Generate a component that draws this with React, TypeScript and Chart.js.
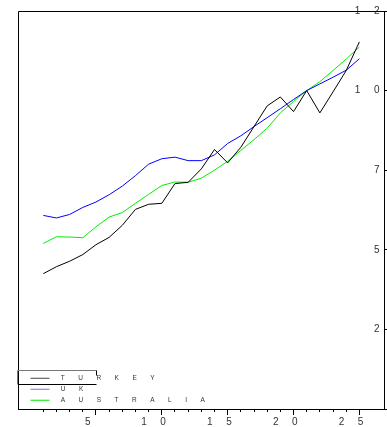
import React, { useEffect, useRef } from 'react';
import { Chart, registerables } from 'chart.js';

Chart.register(...registerables);

// ---- data ----
const years = [1, 2, 3, 4, 5, 6, 7, 8, 9, 10, 11, 12, 13, 14, 15, 16, 17, 18, 19, 20, 21, 22, 23, 24, 25];
const turkey = [42.5, 44.7, 46.4, 48.5, 51.6, 53.9, 57.7, 62.7, 64.3, 64.6, 70.8, 71.2, 75.4, 81.5, 77.3, 82.2, 88.7, 95.2, 98.0, 93.4, 100, 93.0, 99.6, 106.3, 115.3];
const uk = [60.8, 60.0, 61.1, 63.3, 65.0, 67.3, 70.0, 73.3, 76.9, 78.6, 79.1, 78.0, 78.0, 79.8, 83.4, 85.8, 88.7, 91.5, 94.3, 97.2, 100, 102.1, 104.2, 106.4, 110.0];
const australia = [52.0, 54.1, 54.0, 53.8, 57.2, 60.3, 61.7, 64.6, 67.4, 70.2, 71.3, 71.2, 72.5, 75.0, 77.8, 81.2, 84.6, 88.2, 93.0, 96.6, 100, 102.8, 106.3, 109.9, 113.7];
const seriesNames = ['TURKEY', 'UK', 'AUSTRALIA'];
const seriesColors = ['#000000', '#0000ff', '#00ee00'];
const legendColors = ['#444444', '#6f6fff', '#00e000'];
const xMinorTicks = years;
const xMajorTicks = [5, 10, 15, 20, 25];
const yTicks = [0, 25, 50, 75, 100, 125];

const FONT = "'Liberation Sans', Arial, sans-serif";
const LETTER_SPACING = '13.5px';

const spacingPlugin = {
  id: 'letterSpacing',
  beforeUpdate(chart: any) {
    chart.ctx.letterSpacing = LETTER_SPACING;
  },
  beforeLayout(chart: any) {
    chart.ctx.letterSpacing = LETTER_SPACING;
  },
  afterLayout(chart: any) {
    // keep the in-plot legend anchored to the plot's bottom edge
    const lg = chart.legend;
    if (lg) {
      lg.top = chart.chartArea.top;
      lg.bottom = chart.chartArea.bottom - 1;
    }
  },
  beforeDraw(chart: any) {
    chart.ctx.letterSpacing = LETTER_SPACING;
  },
};

const framePlugin = {
  id: 'frame',
  afterDraw(chart: any) {
    const { ctx, chartArea: a } = chart;
    ctx.save();
    ctx.lineWidth = 1;
    ctx.strokeStyle = '#000';
    ctx.beginPath();
    ctx.moveTo(Math.round(a.left) + 0.5, a.bottom);
    ctx.lineTo(Math.round(a.left) + 0.5, Math.round(a.top) + 0.5);
    ctx.lineTo(a.right + 3, Math.round(a.top) + 0.5);
    ctx.stroke();
    // legend frame (partial box around the first entry)
    const top = Math.round(a.bottom - 39) + 0.5;
    const bot = Math.round(a.bottom - 25) + 0.5;
    const lx = Math.round(a.left) - 0.5;
    const rx = Math.round(a.left + 78) + 0.5;
    ctx.strokeStyle = '#777';
    ctx.beginPath();
    ctx.moveTo(lx, bot);
    ctx.lineTo(lx, top);
    ctx.lineTo(rx, top);
    ctx.stroke();
    ctx.strokeStyle = '#000';
    ctx.beginPath();
    ctx.moveTo(rx, top);
    ctx.lineTo(rx, top + 5);
    ctx.moveTo(lx + 1, bot);
    ctx.lineTo(rx, bot);
    ctx.stroke();
    ctx.restore();
  },
};

function legendSample(color: string) {
  const c = document.createElement('canvas');
  c.width = 35;
  c.height = 3;
  const g = c.getContext('2d')!;
  g.strokeStyle = color;
  g.lineWidth = 1;
  g.beginPath();
  g.moveTo(8, 1.5);
  g.lineTo(27, 1.5);
  g.stroke();
  return c;
}

export default function App() {
  const ref = useRef<HTMLCanvasElement>(null);

  useEffect(() => {
    const canvas = ref.current!;
    const samples = legendColors.map(legendSample);
    const series = [turkey, uk, australia];
    const chart = new Chart(canvas, {
      type: 'line',
      data: {
        datasets: series.map((vals, i) => ({
          label: seriesNames[i],
          data: years.map((x, j) => ({ x, y: vals[j] })),
          borderColor: seriesColors[i],
          backgroundColor: seriesColors[i],
          borderWidth: 1,
          pointRadius: 0,
          tension: 0,
          fill: false,
        })),
      },
      options: {
        responsive: false,
        animation: false,
        events: [],
        layout: { padding: { left: 10, top: 11, right: 0, bottom: 1 } },
        scales: {
          x: {
            type: 'linear',
            position: 'bottom',
            weight: 0,
            min: -0.92,
            max: 26.87,
            afterBuildTicks: (s: any) => {
              s.ticks = xMinorTicks.map((v) => ({ value: v }));
            },
            afterFit: (s: any) => {
              s.height = 3;
              s.paddingLeft = 0;
              s.paddingRight = 0;
            },
            ticks: { display: false, autoSkip: false },
            grid: { drawOnChartArea: false, drawTicks: true, tickLength: 3, tickColor: '#000', lineWidth: 1 },
            border: { display: true, color: '#000', width: 1 },
          },
          x2: {
            type: 'linear',
            position: 'bottom',
            weight: 1,
            min: -0.92,
            max: 26.87,
            afterBuildTicks: (s: any) => {
              s.ticks = xMajorTicks.map((v) => ({ value: v }));
            },
            afterFit: (s: any) => {
              s.height = 14;
              s.paddingLeft = 0;
              s.paddingRight = 0;
            },
            ticks: {
              display: true,
              autoSkip: false,
              maxRotation: 0,
              minRotation: 0,
              padding: 1,
              labelOffset: -1.5,
              color: '#333',
              font: { family: FONT, size: 10 },
              callback: (v: any) => String(v),
            },
            grid: { drawOnChartArea: false, drawTicks: true, tickLength: 3, tickColor: '#000', lineWidth: 1 },
            border: { display: false },
          },
          y: {
            type: 'linear',
            position: 'right',
            min: 0,
            max: 125,
            afterBuildTicks: (s: any) => {
              s.ticks = yTicks.map((v) => ({ value: v }));
            },
            afterFit: (s: any) => {
              s.width = 28;
              s.paddingTop = 0;
              s.paddingBottom = 0;
            },
            ticks: {
              mirror: true,
              crossAlign: 'near',
              padding: 28,
              autoSkip: false,
              color: '#333',
              font: { family: FONT, size: 10 },
              callback: (v: any) => String(v),
            },
            grid: { drawOnChartArea: false, drawTicks: true, tickLength: 3, tickColor: '#000', lineWidth: 1 },
            border: { display: true, color: '#000', width: 1 },
          },
        },
        plugins: {
          tooltip: { enabled: false },
          title: { display: false },
          legend: {
            display: true,
            position: 'chartArea' as any,
            align: 'end',
            labels: {
              usePointStyle: true,
              pointStyleWidth: 35,
              padding: 4.5,
              color: '#333',
              font: { family: FONT, size: 6.5 },
              generateLabels: (c: any) =>
                c.data.datasets.map((ds: any, i: number) => ({
                  text: ds.label,
                  pointStyle: samples[i],
                  fillStyle: legendColors[i],
                  strokeStyle: legendColors[i],
                  lineWidth: 0,
                  hidden: false,
                  datasetIndex: i,
                  fontColor: '#333',
                })),
            },
          },
        },
      },
      plugins: [spacingPlugin, framePlugin],
    } as any);
    return () => chart.destroy();
  }, []);

  return (
    <div style={{ position: 'absolute', left: 8, top: 0, width: 379, height: 427, overflow: 'hidden' }}>
      <canvas ref={ref} width={404} height={427} style={{ display: 'block', width: 404, height: 427 }} />
    </div>
  );
}
